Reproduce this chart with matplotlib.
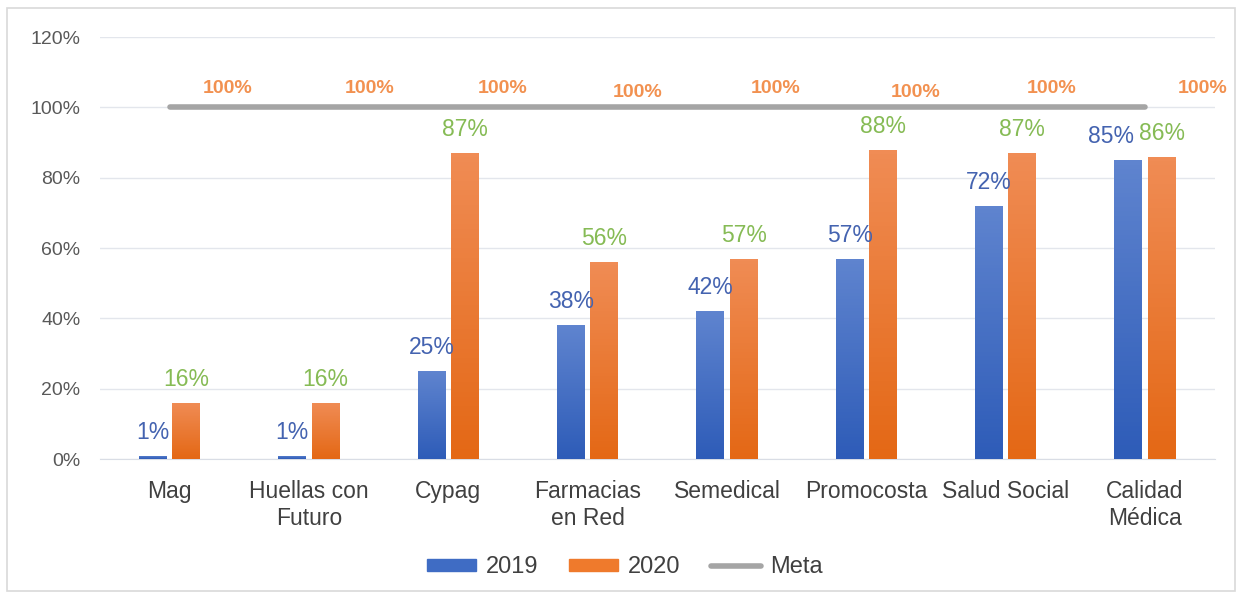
import numpy as np
import matplotlib
matplotlib.use('Agg')
import matplotlib.pyplot as plt
from matplotlib.patches import Rectangle
from matplotlib.lines import Line2D
from matplotlib.patches import Patch

plt.rcParams['font.family'] = ['Liberation Sans', 'DejaVu Sans']

# data
categories = ['Mag', 'Huellas con\nFuturo', 'Cypag', 'Farmacias\nen Red',
              'Semedical', 'Promocosta', 'Salud Social', 'Calidad\nMédica']
v2019 = [1, 1, 25, 38, 42, 57, 72, 85]
v2020 = [16, 16, 87, 56, 57, 88, 87, 86]
meta = [100, 100, 100, 100, 100, 100, 100, 100]
yticks = [0, 20, 40, 60, 80, 100, 120]

# label nudges (pixels) to mimic the original placement
meta_dx = [58, 61, 54, 50, 49, 49, 46, 58]
meta_dy = [19, 19, 19, 15, 19, 15, 19, 19]
lab19_dx = [0, 0, 0, 0, 0, 0, 0, -17]

BLUE_TOP, BLUE_BOT = '#5f84cf', '#2e5cb8'
ORNG_TOP, ORNG_BOT = '#f08c55', '#e46815'

fig = plt.figure(figsize=(12.42, 5.97), dpi=100)
ax = fig.add_axes([0.0805, 0.231, 0.8975, 0.707])

x = np.arange(len(categories))
w = 0.2
off = 0.12


def gradient_bars(xs, vals, ctop, cbot):
    bars = ax.bar(xs, vals, w, color='none', edgecolor='none', zorder=3)
    c1 = np.array(matplotlib.colors.to_rgb(ctop))
    c2 = np.array(matplotlib.colors.to_rgb(cbot))
    t = np.linspace(0, 1, 64)[:, None]
    img = (c1 * (1 - t) + c2 * t)[:, None, :]
    for b in bars:
        x0, y0 = b.get_x(), b.get_y()
        im = ax.imshow(img, extent=(x0, x0 + b.get_width(), y0, y0 + b.get_height()),
                       aspect='auto', origin='upper', zorder=3)
        im.set_clip_path(b)
    return bars


gradient_bars(x - off, v2019, BLUE_TOP, BLUE_BOT)
gradient_bars(x + off, v2020, ORNG_TOP, ORNG_BOT)
ax.plot(x, meta, color='#a5a5a5', lw=4, solid_capstyle='round', zorder=4)

for i in range(len(categories)):
    ax.annotate(f'{v2019[i]}%', (x[i] - off, v2019[i]), xytext=(lab19_dx[i], 12),
                textcoords='offset pixels', ha='center', va='bottom',
                fontsize=16.5, color='#4463b0', zorder=5)
    ax.annotate(f'{v2020[i]}%', (x[i] + off, v2020[i]), xytext=(0, 12),
                textcoords='offset pixels', ha='center', va='bottom',
                fontsize=16.5, color='#86bb55', zorder=5)
    ax.annotate(f'{meta[i]}%', (x[i], meta[i]), xytext=(meta_dx[i], meta_dy[i]),
                textcoords='offset pixels', ha='center', va='center',
                fontsize=14, fontweight='bold', color='#f29150', zorder=5)

ax.set_xlim(-0.5, len(categories) - 0.5)
ax.set_ylim(0, 120)
ax.set_yticks(yticks)
ax.set_yticklabels([f'{t}%' for t in yticks])
ax.set_xticks(x)
ax.set_xticklabels(categories, fontsize=16.5, color='#404040', linespacing=1.2)
ax.tick_params(axis='y', labelsize=14, labelcolor='#595959', length=0, pad=14)
ax.tick_params(axis='x', length=0, pad=15)
ax.grid(axis='y', color='#e3e6ec', lw=1, zorder=0)
ax.set_axisbelow(True)
for s in ['top', 'right', 'left']:
    ax.spines[s].set_visible(False)
ax.spines['bottom'].set_color('#d9dde5')

handles = [Patch(color='#3f6cc4', label='2019'),
           Patch(color='#ef7a2c', label='2020'),
           Line2D([0], [0], color='#a5a5a5', lw=4, solid_capstyle='round', label='Meta')]
leg = fig.legend(handles=handles, loc='center', bbox_to_anchor=(0.503, 0.05), ncol=3,
                 frameon=False, fontsize=17, handlelength=2.1, handleheight=0.4,
                 columnspacing=1.3, handletextpad=0.4)
for t in leg.get_texts():
    t.set_color('#404040')

fig.patches.append(Rectangle((7 / 1242, 0.01), 1 - 14 / 1242, 0.976, transform=fig.transFigure,
                             fill=False, edgecolor='#d9d9d9', lw=1.2))

fig.savefig('out.png', dpi=100)
